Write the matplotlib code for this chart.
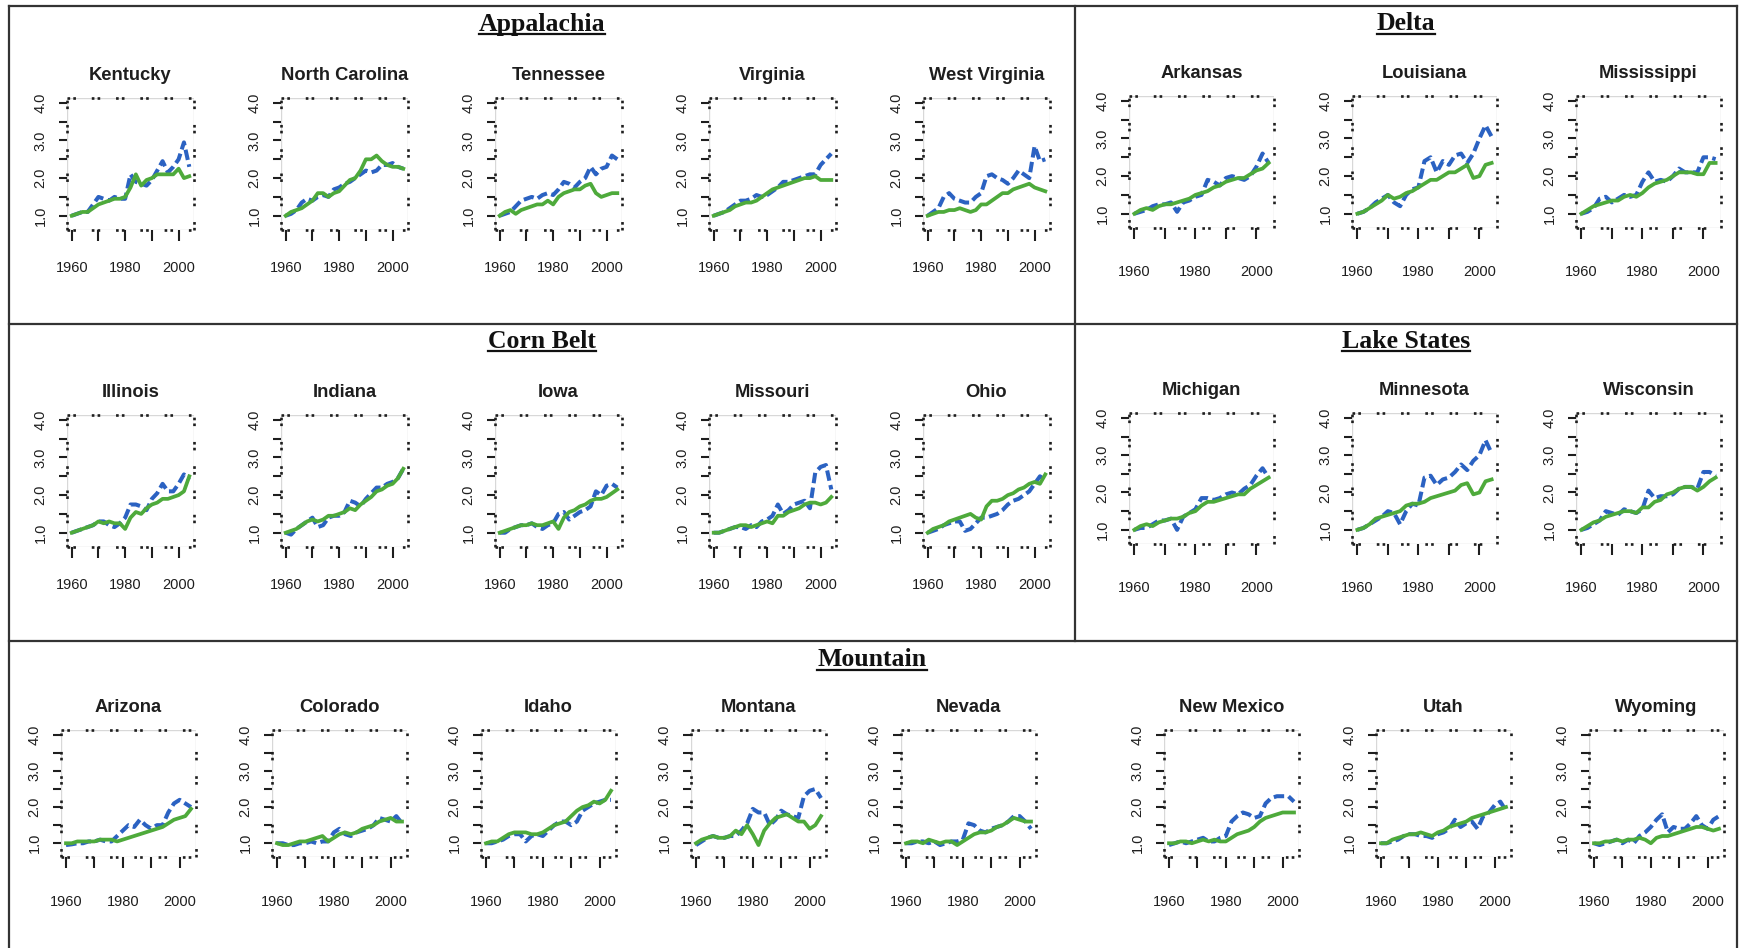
import matplotlib.pyplot as plt
from matplotlib.lines import Line2D

W, H = 1741, 948

plt.rcParams['font.family'] = ['Liberation Sans', 'DejaVu Sans']

# biennial years 1960..2004
years = list(range(1960, 2005, 2))

# --- Appalachia ---
kentucky_blue = [1.0, 1.05, 1.1, 1.1, 1.3, 1.5, 1.45, 1.4, 1.5, 1.45, 1.45, 2.1, 1.9, 1.85, 1.8, 1.95, 2.2, 2.45, 2.15, 2.3, 2.5, 2.95, 2.3]
kentucky_green = [1.0, 1.05, 1.1, 1.1, 1.2, 1.3, 1.35, 1.4, 1.45, 1.45, 1.5, 1.75, 2.1, 1.8, 1.95, 2.0, 2.1, 2.1, 2.1, 2.1, 2.25, 2.0, 2.05]
ncarolina_blue = [1.0, 1.05, 1.15, 1.35, 1.45, 1.4, 1.5, 1.55, 1.5, 1.7, 1.75, 1.85, 1.9, 2.0, 2.1, 2.2, 2.15, 2.2, 2.35, 2.35, 2.4, 2.3, 2.25]
ncarolina_green = [1.0, 1.1, 1.15, 1.2, 1.3, 1.4, 1.6, 1.6, 1.5, 1.6, 1.65, 1.8, 1.95, 2.0, 2.2, 2.5, 2.5, 2.6, 2.45, 2.35, 2.3, 2.3, 2.25]
tennessee_blue = [1.0, 1.05, 1.1, 1.25, 1.4, 1.45, 1.5, 1.45, 1.55, 1.6, 1.55, 1.7, 1.9, 1.85, 1.75, 1.9, 2.0, 2.3, 2.1, 2.25, 2.3, 2.6, 2.5]
tennessee_green = [1.0, 1.1, 1.15, 1.05, 1.15, 1.2, 1.25, 1.3, 1.3, 1.4, 1.3, 1.5, 1.6, 1.65, 1.7, 1.7, 1.8, 1.85, 1.6, 1.5, 1.55, 1.6, 1.6]
virginia_blue = [1.0, 1.05, 1.1, 1.2, 1.3, 1.4, 1.4, 1.45, 1.55, 1.5, 1.55, 1.65, 1.75, 1.9, 1.9, 1.95, 2.0, 2.05, 2.1, 2.1, 2.35, 2.5, 2.65]
virginia_green = [1.0, 1.05, 1.1, 1.15, 1.25, 1.3, 1.35, 1.35, 1.4, 1.5, 1.6, 1.7, 1.75, 1.8, 1.85, 1.9, 1.95, 2.0, 2.0, 2.05, 1.95, 1.95, 1.95]
wvirginia_blue = [1.0, 1.1, 1.2, 1.5, 1.6, 1.45, 1.4, 1.35, 1.35, 1.5, 1.6, 2.05, 2.1, 2.0, 1.95, 1.85, 2.0, 2.2, 2.1, 2.0, 2.85, 2.45, 2.5]
wvirginia_green = [1.0, 1.05, 1.1, 1.1, 1.15, 1.15, 1.2, 1.15, 1.1, 1.15, 1.3, 1.3, 1.4, 1.5, 1.6, 1.6, 1.7, 1.75, 1.8, 1.85, 1.75, 1.7, 1.65]

# --- Delta ---
arkansas_blue = [1.0, 1.05, 1.1, 1.2, 1.25, 1.25, 1.3, 1.05, 1.3, 1.35, 1.45, 1.5, 1.9, 1.85, 1.75, 1.95, 2.0, 1.95, 1.9, 2.0, 2.25, 2.6, 2.35]
arkansas_green = [1.0, 1.1, 1.15, 1.1, 1.2, 1.25, 1.25, 1.3, 1.35, 1.4, 1.5, 1.55, 1.6, 1.7, 1.75, 1.85, 1.9, 1.95, 1.95, 2.05, 2.15, 2.2, 2.35]
louisiana_blue = [1.0, 1.05, 1.15, 1.3, 1.4, 1.5, 1.3, 1.2, 1.5, 1.65, 1.7, 2.4, 2.5, 2.1, 2.4, 2.3, 2.55, 2.6, 2.35, 2.6, 3.0, 3.35, 3.05]
louisiana_green = [1.0, 1.05, 1.15, 1.25, 1.35, 1.5, 1.4, 1.45, 1.55, 1.6, 1.7, 1.8, 1.9, 1.9, 2.0, 2.1, 2.1, 2.2, 2.3, 1.95, 2.0, 2.3, 2.35]
mississippi_blue = [1.0, 1.05, 1.15, 1.4, 1.45, 1.3, 1.4, 1.5, 1.45, 1.5, 1.85, 2.1, 1.85, 1.9, 1.85, 2.0, 2.2, 2.1, 2.1, 2.1, 2.5, 2.5, 2.45]
mississippi_green = [1.0, 1.1, 1.2, 1.25, 1.3, 1.35, 1.35, 1.45, 1.5, 1.45, 1.55, 1.7, 1.8, 1.85, 1.9, 2.0, 2.1, 2.1, 2.1, 2.05, 2.05, 2.35, 2.35]

# --- Corn Belt ---
illinois_blue = [1.0, 1.05, 1.1, 1.15, 1.2, 1.3, 1.3, 1.2, 1.15, 1.25, 1.4, 1.75, 1.75, 1.7, 1.6, 1.9, 2.05, 2.3, 2.1, 2.1, 2.3, 2.55, 2.4]
illinois_green = [1.0, 1.05, 1.1, 1.15, 1.2, 1.3, 1.25, 1.3, 1.25, 1.25, 1.1, 1.4, 1.55, 1.5, 1.65, 1.75, 1.8, 1.9, 1.9, 1.95, 2.0, 2.1, 2.5]
indiana_blue = [1.0, 0.95, 1.1, 1.2, 1.3, 1.4, 1.15, 1.2, 1.4, 1.45, 1.45, 1.55, 1.85, 1.8, 1.7, 1.9, 2.05, 2.2, 2.2, 2.3, 2.35, 2.45, 2.7]
indiana_green = [1.0, 1.05, 1.1, 1.2, 1.3, 1.35, 1.3, 1.35, 1.45, 1.45, 1.5, 1.55, 1.65, 1.6, 1.75, 1.85, 1.95, 2.1, 2.15, 2.25, 2.3, 2.45, 2.7]
iowa_blue = [1.0, 1.0, 1.1, 1.15, 1.2, 1.2, 1.25, 1.15, 1.1, 1.2, 1.25, 1.5, 1.55, 1.35, 1.45, 1.55, 1.6, 1.7, 2.1, 2.0, 2.25, 2.3, 2.2]
iowa_green = [1.0, 1.05, 1.1, 1.15, 1.2, 1.2, 1.25, 1.2, 1.2, 1.25, 1.3, 1.1, 1.4, 1.55, 1.6, 1.7, 1.75, 1.85, 1.9, 1.9, 1.95, 2.05, 2.15]
missouri_blue = [1.0, 1.0, 1.05, 1.1, 1.15, 1.15, 1.1, 1.2, 1.15, 1.3, 1.35, 1.45, 1.75, 1.5, 1.6, 1.75, 1.8, 1.85, 1.65, 2.6, 2.75, 2.8, 2.15]
missouri_green = [1.0, 1.0, 1.05, 1.1, 1.15, 1.2, 1.2, 1.15, 1.2, 1.25, 1.3, 1.25, 1.45, 1.45, 1.55, 1.6, 1.65, 1.75, 1.8, 1.8, 1.75, 1.8, 1.95]
ohio_blue = [1.0, 1.05, 1.1, 1.2, 1.25, 1.3, 1.3, 1.05, 1.1, 1.25, 1.4, 1.4, 1.45, 1.5, 1.6, 1.75, 1.85, 1.9, 2.0, 2.1, 2.3, 2.5, 2.4]
ohio_green = [1.0, 1.1, 1.15, 1.2, 1.3, 1.35, 1.4, 1.45, 1.5, 1.4, 1.35, 1.7, 1.85, 1.85, 1.9, 2.0, 2.05, 2.15, 2.2, 2.3, 2.35, 2.3, 2.55]

# --- Lake States ---
michigan_blue = [1.0, 1.05, 1.05, 1.15, 1.25, 1.25, 1.3, 1.0, 1.35, 1.45, 1.55, 1.85, 1.85, 1.8, 1.85, 1.95, 2.0, 1.95, 2.1, 2.2, 2.45, 2.65, 2.4]
michigan_green = [1.0, 1.1, 1.15, 1.1, 1.2, 1.25, 1.3, 1.3, 1.35, 1.45, 1.5, 1.65, 1.75, 1.75, 1.8, 1.85, 1.9, 1.95, 1.95, 2.1, 2.2, 2.3, 2.4]
minnesota_blue = [1.0, 1.05, 1.15, 1.25, 1.35, 1.5, 1.45, 1.15, 1.5, 1.7, 1.65, 2.4, 2.45, 2.2, 2.35, 2.4, 2.55, 2.75, 2.6, 2.85, 3.0, 3.4, 3.05]
minnesota_green = [1.0, 1.05, 1.15, 1.3, 1.35, 1.4, 1.45, 1.5, 1.65, 1.7, 1.7, 1.75, 1.85, 1.9, 1.95, 2.0, 2.05, 2.2, 2.25, 1.95, 2.0, 2.3, 2.35]
wisconsin_blue = [1.0, 1.05, 1.15, 1.25, 1.5, 1.45, 1.4, 1.55, 1.5, 1.45, 1.55, 2.05, 1.85, 1.9, 1.9, 1.95, 2.1, 2.15, 2.15, 2.1, 2.55, 2.55, 2.45]
wisconsin_green = [1.0, 1.1, 1.2, 1.25, 1.35, 1.4, 1.45, 1.5, 1.5, 1.45, 1.6, 1.6, 1.75, 1.8, 1.95, 2.0, 2.1, 2.15, 2.15, 2.05, 2.15, 2.3, 2.4]

# --- Mountain ---
arizona_blue = [0.95, 0.97, 1.0, 1.0, 1.05, 1.05, 1.1, 1.05, 1.05, 1.2, 1.35, 1.5, 1.45, 1.65, 1.5, 1.4, 1.5, 1.5, 1.85, 2.1, 2.2, 2.1, 2.0]
arizona_green = [1.0, 1.0, 1.05, 1.05, 1.05, 1.05, 1.1, 1.1, 1.1, 1.05, 1.1, 1.15, 1.2, 1.25, 1.3, 1.35, 1.4, 1.45, 1.55, 1.65, 1.7, 1.75, 1.95]
colorado_blue = [1.0, 1.0, 0.95, 0.95, 1.0, 1.0, 1.05, 1.0, 1.05, 1.05, 1.3, 1.4, 1.25, 1.2, 1.3, 1.35, 1.4, 1.5, 1.7, 1.65, 1.6, 1.75, 1.55]
colorado_green = [1.0, 0.95, 0.95, 1.0, 1.05, 1.05, 1.1, 1.15, 1.2, 1.05, 1.15, 1.25, 1.3, 1.25, 1.3, 1.4, 1.45, 1.5, 1.6, 1.65, 1.7, 1.6, 1.6]
idaho_blue = [1.0, 1.0, 1.05, 1.1, 1.2, 1.25, 1.25, 1.05, 1.2, 1.25, 1.2, 1.35, 1.5, 1.6, 1.6, 1.5, 1.6, 1.9, 2.0, 2.1, 2.15, 2.2, 2.2]
idaho_green = [1.0, 1.05, 1.05, 1.15, 1.25, 1.3, 1.3, 1.3, 1.25, 1.25, 1.3, 1.4, 1.5, 1.55, 1.6, 1.75, 1.9, 2.0, 2.05, 2.15, 2.1, 2.2, 2.45]
montana_blue = [0.95, 1.05, 1.15, 1.2, 1.15, 1.15, 1.2, 1.2, 1.35, 1.55, 1.95, 1.85, 1.85, 1.5, 1.65, 1.9, 1.8, 1.75, 1.7, 2.3, 2.45, 2.5, 2.25]
montana_green = [1.0, 1.1, 1.15, 1.2, 1.15, 1.15, 1.2, 1.35, 1.25, 1.5, 1.25, 0.95, 1.35, 1.55, 1.7, 1.75, 1.8, 1.7, 1.6, 1.6, 1.4, 1.5, 1.75]
nevada_blue = [1.0, 1.0, 1.05, 1.05, 1.0, 1.05, 0.95, 1.0, 1.05, 1.05, 1.1, 1.55, 1.5, 1.35, 1.3, 1.4, 1.45, 1.5, 1.6, 1.75, 1.75, 1.6, 1.4]
nevada_green = [1.0, 1.05, 1.05, 1.0, 1.1, 1.05, 1.0, 1.05, 1.05, 0.95, 1.05, 1.15, 1.25, 1.3, 1.3, 1.35, 1.45, 1.5, 1.6, 1.7, 1.65, 1.6, 1.6]
newmexico_blue = [0.95, 1.0, 1.05, 1.0, 1.05, 1.1, 1.15, 1.05, 1.05, 1.15, 1.2, 1.6, 1.75, 1.85, 1.8, 1.7, 1.75, 2.1, 2.25, 2.3, 2.3, 2.3, 2.15]
newmexico_green = [1.0, 1.0, 1.05, 1.05, 1.0, 1.05, 1.1, 1.05, 1.1, 1.05, 1.05, 1.15, 1.25, 1.3, 1.35, 1.45, 1.6, 1.7, 1.75, 1.8, 1.85, 1.85, 1.85]
utah_blue = [1.0, 1.0, 1.05, 1.1, 1.2, 1.25, 1.25, 1.2, 1.2, 1.15, 1.25, 1.3, 1.4, 1.65, 1.45, 1.55, 1.6, 1.4, 1.75, 1.85, 2.05, 2.15, 1.9]
utah_green = [1.0, 1.0, 1.1, 1.15, 1.2, 1.25, 1.25, 1.3, 1.25, 1.2, 1.3, 1.35, 1.45, 1.5, 1.55, 1.6, 1.7, 1.75, 1.8, 1.85, 1.9, 1.95, 2.0]
wyoming_blue = [1.0, 0.95, 1.0, 1.05, 1.1, 1.0, 1.1, 1.0, 1.2, 1.3, 1.45, 1.65, 1.8, 1.3, 1.45, 1.4, 1.4, 1.55, 1.75, 1.5, 1.4, 1.65, 1.75]
wyoming_green = [1.0, 1.0, 1.05, 1.05, 1.1, 1.05, 1.1, 1.1, 1.15, 1.1, 1.0, 1.15, 1.2, 1.2, 1.25, 1.3, 1.35, 1.4, 1.45, 1.45, 1.4, 1.35, 1.4]

BLUE = '#2b62c2'
GREEN = '#4eaa3b'
INK = '#1e1e1e'

fig = plt.figure(figsize=(W / 100, H / 100), dpi=100)
fig.patch.set_facecolor('white')


def add_panel(name, blue, green, left, top, width, height, xpad):
    ax = fig.add_axes([left / W, 1 - (top + height) / H, width / W, height / H])
    ax.plot(years, blue, color=BLUE, lw=2.9, ls=(0, (2.6, 1.1)), dash_capstyle='butt')
    ax.plot(years, green, color=GREEN, lw=2.7)
    ax.set_xlim(1958.24, 2005.76)
    ax.set_ylim(0.62, 4.13)
    ax.set_xticks([1960, 1980, 2000])
    ax.set_xticks([1970, 1990], minor=True)
    ax.set_yticks([1.0, 2.0, 3.0, 4.0])
    ax.set_yticklabels(['1.0', '2.0', '3.0', '4.0'], rotation=90, va='center')
    ax.set_yticks([1.5, 2.5, 3.5], minor=True)
    ax.tick_params(axis='both', which='both', direction='out', color=INK, width=1.5,
                   labelsize=10.5, labelcolor='#1e1e1e')
    ax.tick_params(axis='x', which='both', length=8, pad=xpad)
    ax.tick_params(axis='y', which='both', length=6, pad=8)
    # faint solid box with dark dotted pattern on top, like the scanned R output
    ax.add_patch(plt.Rectangle((0, 0), 1, 1, transform=ax.transAxes, fill=False,
                               ec='#d8d8d8', lw=1.0, zorder=0.5))
    for sp in ax.spines.values():
        sp.set_linestyle((0, (1.0, 1.2, 1.0, 6.0)))
        sp.set_linewidth(1.9)
        sp.set_color(INK)
        sp.set_capstyle('butt')
    ax.set_title(name, fontsize=13.2, fontweight='bold', color=INK, pad=13)
    return ax


# Appalachia and Corn Belt (5 panels each)
left5 = [67, 281, 495, 709, 923]
appalachia = [('Kentucky', kentucky_blue, kentucky_green),
              ('North Carolina', ncarolina_blue, ncarolina_green),
              ('Tennessee', tennessee_blue, tennessee_green),
              ('Virginia', virginia_blue, virginia_green),
              ('West Virginia', wvirginia_blue, wvirginia_green)]
cornbelt = [('Illinois', illinois_blue, illinois_green),
            ('Indiana', indiana_blue, indiana_green),
            ('Iowa', iowa_blue, iowa_green),
            ('Missouri', missouri_blue, missouri_green),
            ('Ohio', ohio_blue, ohio_green)]
for i, (n, b, g) in enumerate(appalachia):
    add_panel(n, b, g, left5[i], 98, 127, 132, 14)
for i, (n, b, g) in enumerate(cornbelt):
    add_panel(n, b, g, left5[i], 415, 127, 132, 14)

# Delta and Lake States (3 panels each)
left3 = [1129, 1352, 1576]
delta = [('Arkansas', arkansas_blue, arkansas_green),
         ('Louisiana', louisiana_blue, louisiana_green),
         ('Mississippi', mississippi_blue, mississippi_green)]
lakes = [('Michigan', michigan_blue, michigan_green),
         ('Minnesota', minnesota_blue, minnesota_green),
         ('Wisconsin', wisconsin_blue, wisconsin_green)]
for i, (n, b, g) in enumerate(delta):
    add_panel(n, b, g, left3[i], 96, 145, 132, 19)
for i, (n, b, g) in enumerate(lakes):
    add_panel(n, b, g, left3[i], 413, 145, 131, 19)

# Mountain (8 panels)
left8 = [61, 272, 481, 691, 901, 1164, 1376, 1589]
mountain = [('Arizona', arizona_blue, arizona_green),
            ('Colorado', colorado_blue, colorado_green),
            ('Idaho', idaho_blue, idaho_green),
            ('Montana', montana_blue, montana_green),
            ('Nevada', nevada_blue, nevada_green),
            ('New Mexico', newmexico_blue, newmexico_green),
            ('Utah', utah_blue, utah_green),
            ('Wyoming', wyoming_blue, wyoming_green)]
for i, (n, b, g) in enumerate(mountain):
    add_panel(n, b, g, left8[i], 730, 135, 127, 19)

# region frame lines (pixel coords -> figure fraction)
def frame_line(x0, y0, x1, y1):
    fig.add_artist(Line2D([x0 / W, x1 / W], [1 - y0 / H, 1 - y1 / H], color='#333333', lw=1.6))

frame_line(9, 6, 1737, 6)
frame_line(9, 324, 1737, 324)
frame_line(9, 641, 1737, 641)
frame_line(9, 6, 9, 948)
frame_line(1737, 6, 1737, 948)
frame_line(1075, 6, 1075, 641)

# region headings, underlined
headings = [('Appalachia', 542, 24), ('Delta', 1406, 24), ('Corn Belt', 542, 342),
            ('Lake States', 1406, 342), ('Mountain', 872, 660)]
texts = []
for label, x, y in headings:
    t = fig.text(x / W, 1 - y / H, label, ha='center', va='center', fontsize=18.5,
                 fontweight='bold', family='Liberation Serif', color='#111111')
    texts.append(t)

fig.canvas.draw()
renderer = fig.canvas.get_renderer()
for t in texts:
    bb = t.get_window_extent(renderer)
    yl = bb.y0 + 2
    fig.add_artist(Line2D([bb.x0 / W, bb.x1 / W], [yl / H, yl / H], color='#111111', lw=1.6))

fig.savefig('out.png', dpi=100)
